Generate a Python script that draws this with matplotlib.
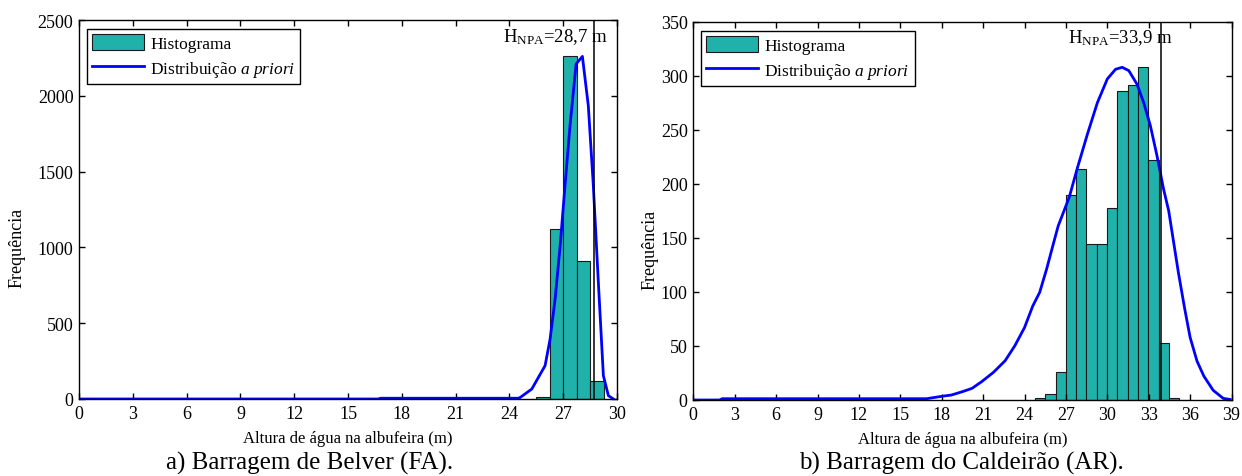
import matplotlib
matplotlib.use('Agg')
import matplotlib.pyplot as plt
import numpy as np

plt.rcParams['font.family'] = ['Liberation Serif', 'DejaVu Serif']
plt.rcParams['mathtext.fontset'] = 'custom'
plt.rcParams['mathtext.rm'] = 'Liberation Serif'
plt.rcParams['mathtext.it'] = 'Liberation Serif:italic'

# a) Belver
belver_edges = [25.5, 26.25, 27.0, 27.75, 28.5, 29.25]
belver_counts = [15, 1120, 2260, 908, 121]
belver_curve_x = [0, 16.7, 16.8, 24.5, 24.6, 25.25, 25.99, 26.27, 26.55, 26.83, 27.1,
                  27.38, 27.72, 28.07, 28.4, 28.68, 28.96, 29.24, 29.52, 29.8]
belver_curve_y = [0, 0, 5, 5, 10, 66, 220, 396, 660, 1011, 1407,
                  1803, 2210, 2260, 1935, 1407, 770, 154, 22, 0]
belver_npa = 28.7

# b) Caldeirao
cald_edges = [24.76, 25.51, 26.25, 27.0, 27.75, 28.49, 29.24, 29.99, 30.73,
              31.48, 32.23, 32.97, 33.72, 34.47, 35.21]
cald_counts = [2, 6, 26, 190, 214, 144, 144, 178, 286, 291, 308, 222, 53, 2]
cald_curve_x = [0, 1.9, 2.1, 16.9, 18.0, 18.7, 19.5, 20.2, 20.9, 21.75, 22.6, 23.3,
                24.0, 24.6, 25.1, 25.6, 26.08, 26.44, 27.24, 27.84, 28.56, 29.28,
                30.0, 30.6, 31.08, 31.56, 32.16, 32.64, 33.12, 33.6, 34.08, 34.45,
                35.15, 35.6, 36.0, 36.5, 37.0, 37.67, 38.4, 38.9]
cald_curve_y = [0, 0, 1.2, 1.2, 3.4, 4.6, 7.7, 10.8, 17, 25.6, 36.4, 50.2,
                67, 87, 99.6, 121, 144, 161, 187.5, 215, 246, 275,
                297, 306, 307.8, 304.7, 292, 275, 253.8, 226, 195, 175,
                118, 85, 58, 36, 22, 9, 1.5, 0.5]
cald_npa = 33.9

bar_color = '#20B2AA'


def draw(ax, edges, counts, cx, cy, npa, xmax, ymax, ystep, txt_x, txt_y):
    edges = np.array(edges)
    bars = ax.bar(edges[:-1], counts, width=np.diff(edges), align='edge',
                  color=bar_color, edgecolor='#1a1a1a', linewidth=0.8)
    line, = ax.plot(cx, cy, color='blue', linewidth=2.0)
    ax.axvline(npa, color='black', linewidth=1.1)
    ax.text(txt_x, txt_y, r'$\mathrm{H_{NPA}}$=' + f'{npa:.1f}'.replace('.', ',') + ' m',
            ha='right', va='baseline', fontsize=13.5)
    ax.set_xlim(0, xmax)
    ax.set_ylim(0, ymax)
    ax.set_xticks(np.arange(0, xmax + 1, 3))
    ax.set_yticks(np.arange(0, ymax + 1, ystep))
    ax.tick_params(direction='in', top=True, right=True, length=4.5, width=1,
                   labelsize=13, pad=4)
    for s in ax.spines.values():
        s.set_linewidth(1.0)
    ax.set_xlabel('Altura de água na albufeira (m)', fontsize=12, labelpad=6)
    ax.set_ylabel('Frequência', fontsize=13)
    leg = ax.legend([bars, line], ['Histograma', r'Distribuição $\mathit{a\ priori}$'],
                    loc='upper left', bbox_to_anchor=(0.0143, 0.976), borderaxespad=0,
                    fancybox=False, edgecolor='black', fontsize=12.5, handlelength=3.0,
                    handleheight=1.0, labelspacing=0.4, handletextpad=0.35,
                    borderpad=0.3, framealpha=1)
    leg.get_frame().set_linewidth(1.0)


fig = plt.figure(figsize=(12.42, 4.77), dpi=100)
ax1 = fig.add_axes([79 / 1242, 1 - 400 / 477, 538 / 1242, 379 / 477])
ax2 = fig.add_axes([693.3 / 1242, 1 - 401 / 477, 538.2 / 1242, 378.3 / 477])

draw(ax1, belver_edges, belver_counts, belver_curve_x, belver_curve_y, belver_npa,
     30, 2500, 500, 29.5, 2363)
draw(ax2, cald_edges, cald_counts, cald_curve_x, cald_curve_y, cald_npa,
     39, 350, 50, 34.75, 331.5)

ax1.yaxis.set_label_coords(-0.100, 0.40)
ax2.yaxis.set_label_coords(-0.065, 0.40)

fig.text(310 / 1242, 1 - 463 / 477, 'a) Barragem de Belver (FA).', ha='center',
         va='center', fontsize=18)
fig.text(961 / 1242, 1 - 463 / 477, 'b) Barragem do Caldeirão (AR).', ha='center',
         va='center', fontsize=18)

fig.savefig('out.png', dpi=100)
